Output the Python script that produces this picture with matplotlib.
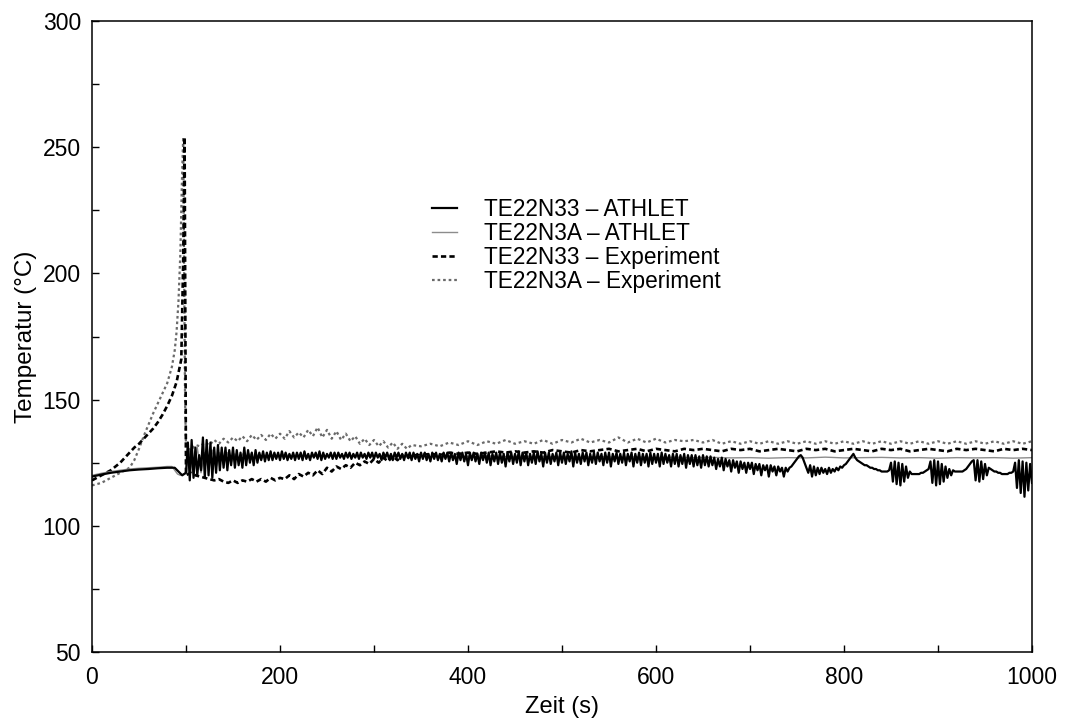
import numpy as np
import matplotlib
matplotlib.use("Agg")
import matplotlib.pyplot as plt
from matplotlib.ticker import MultipleLocator

plt.rcParams["font.family"] = ["Liberation Sans", "DejaVu Sans"]
plt.rcParams["font.size"] = 16

# ---------------- data ----------------
labels = ["TE22N33 \u2013 ATHLET", "TE22N3A \u2013 ATHLET",
          "TE22N33 \u2013 Experiment", "TE22N3A \u2013 Experiment"]

# ATHLET TE22N33: start-up phase, then 2 s samples from t = 100 s
athlet_n33_t0 = [0, 10, 20, 30, 40, 50, 60, 70, 80, 88, 92, 96, 98]
athlet_n33_v0 = [119.5, 120.3, 121, 121.5, 122, 122.3, 122.5, 122.8, 123, 123, 121.5, 120, 120.5]
athlet_n33_start, athlet_n33_step = 100, 2
athlet_n33_v = [
    121, 133, 118, 134, 119, 131, 120, 128, 122, 135, 119, 134, 120, 133, 119, 131, 121, 132, 122, 131,
    123, 131, 122, 130, 124, 131, 123, 130, 124, 129, 123, 131, 124, 130, 125, 129, 124, 130, 125, 129,
    126, 129.5, 125.5, 129, 126, 129.5, 126, 129, 126.5, 129, 126, 129.5, 126.5, 129, 126, 128.5, 126.5, 129, 126, 129,
    126.5, 129, 126, 129.5, 126.5, 128.5, 126, 129, 127, 129, 126.5, 129.5, 126, 129, 126.5, 128.5, 127, 129, 126.5, 129,
    126.5, 129, 127, 128.5, 126.5, 129, 127, 129, 126.5, 128.5, 127, 129, 126.5, 129, 127, 128.5, 126.5, 129, 127, 129,
    126.5, 129, 127, 128.5, 126, 129, 127, 129, 126.5, 128.5, 126, 129, 127, 129, 126.5, 128.5, 126, 129, 127, 129,
    126, 129, 126.5, 128.5, 125.5, 129, 126.5, 129, 126, 128.5, 125.5, 129, 126.5, 129, 126, 128.5, 125.5, 129, 126.5, 129,
    125.5, 129, 126, 128.5, 124.5, 129, 126, 129, 125.5, 128.5, 124, 129, 126, 129, 125.5, 128.5, 124.5, 129, 126, 129,
    125, 129, 124, 128.5, 125.5, 129, 124.5, 129, 125, 128.5, 123.5, 129, 125.5, 129, 124.5, 128.5, 125, 129.5, 124, 129,
    125.5, 129, 124, 128.5, 125, 129, 124.5, 129.5, 125.5, 128.5, 123.5, 129, 125, 129, 124.5, 128.5, 125.5, 129, 124, 129,
    125, 129, 124.5, 128.5, 125.5, 129.5, 123.5, 129, 125, 128.5, 124.5, 129, 125.5, 129, 124, 128.5, 125, 129, 124.5, 129,
    125.5, 128.5, 124, 129, 125, 129, 123.5, 128.5, 125.5, 129, 124.5, 128.5, 125, 129, 124, 128.5, 125.5, 129, 123.5, 128.5,
    125, 129, 124, 128.5, 125, 128.5, 123.5, 129, 124.5, 128.5, 125, 128.5, 123.5, 129, 124.5, 128.5, 125, 128, 123.5, 128.5,
    124.5, 128.5, 123.5, 128, 124.5, 128.5, 123, 128, 124.5, 128, 123.5, 128, 124, 127.5, 123, 128, 124, 127.5, 123.5, 127.5,
    124, 127, 122.5, 126.5, 123.5, 127, 122, 126.5, 123.5, 126, 121.5, 126, 123, 125.5, 121, 125.5, 122.5, 125, 121, 125,
    122.5, 125, 120.5, 124.5, 122, 124.5, 120, 124, 122, 124, 119.5, 124, 121.5, 123.5, 120, 123.5, 121.5, 123, 119.5, 123,
    121.5, 123, 123.5, 124.5, 125.5, 126.5, 127.5, 128, 127, 125, 123, 121, 124, 119.5, 123.5, 120, 123, 120.5, 123, 121,
    122.5, 120.5, 123, 121, 122.5, 121.5, 123, 122, 123.5, 123, 124, 124.5, 125.5, 126.5, 127.5, 128.5, 127, 126, 125.5, 125,
    124.5, 124, 124, 123.5, 123, 123, 122.5, 122.5, 122, 122, 121.5, 121.5, 121.5, 121.5, 122, 125, 117.5, 125.5, 116.5, 125,
    116, 124.5, 117.5, 123.5, 119, 121.5, 120.5, 120.5, 120.5, 120.5, 120.5, 121, 121, 121.5, 122, 122.5, 125.5, 117, 126, 116,
    125.5, 116.5, 124.5, 117.5, 123.5, 119, 122.5, 120, 122, 121.5, 121.5, 121.5, 121.5, 121.5, 122, 122.5, 123.5, 124.5, 125.5, 126,
    118, 126, 117.5, 125.5, 118.5, 124.5, 120, 123, 122.5, 122, 121.5, 121.5, 121, 121, 120.5, 120.5, 120.5, 120.5, 121, 121,
    121.5, 125, 115, 126, 113, 125.5, 111.5, 125, 114, 124.5, 117,
]

# ATHLET TE22N3A
athlet_n3a_t0 = [0, 10, 20, 30, 40, 50, 60, 70, 80, 85, 88, 91, 94, 97, 100]
athlet_n3a_v0 = [120, 120.8, 121.5, 122, 122.5, 122.8, 123, 123.2, 123.5, 123.5, 122, 120.5, 120, 120.5, 121]
athlet_n3a_start1, athlet_n3a_step1 = 104, 4
athlet_n3a_v1 = [130, 120, 131, 121, 129, 122, 130, 123, 129, 124, 129, 125, 128.5, 125.5, 128.5,
                 126, 128.5, 126.5, 128, 126.5, 128, 127, 128, 127, 128, 127, 128, 127, 128]
athlet_n3a_start2, athlet_n3a_step2 = 240, 20
athlet_n3a_v2 = [127.5, 127.8, 127.4, 127.7, 127.5, 127.8, 127.4, 127.6, 127.5, 127.7, 127.4, 127.6, 127.3,
                 127.5, 127.2, 127.4, 127.1, 127.3, 127.0, 127.2, 127.0, 127.1, 126.9, 127.0, 126.8, 127.0,
                 126.9, 127.2, 126.9, 127.0, 127.1, 126.9, 127.0, 126.8, 127.0, 126.9, 127.0, 126.8, 127.0]

# Experiment TE22N33
exp_n33_start0, exp_n33_step0 = 0, 5
exp_n33_v0 = [118, 119, 120, 121, 122, 123.5, 125, 127, 129, 131, 132.5, 134.5, 136.5, 138.5,
              141, 144, 147.5, 151.5, 157, 166]
exp_n33_spike_t = [97, 98.5, 100]
exp_n33_spike_v = [205, 254, 120]
exp_n33_start1, exp_n33_step1 = 105, 5
exp_n33_v1 = [121, 120, 119.5, 119, 118.5, 118, 118.5, 117.5, 117, 118, 117, 118, 117.5, 118.5, 117.5, 118.5,
              117.5, 119, 118, 119, 118.5, 120, 118.5, 120.5, 119.5, 121, 120, 122, 120.5, 123, 121.5, 123.5,
              122.5, 124, 123, 125, 124, 125.5, 124.5, 126.5, 125, 127, 125.5, 127.5, 126, 128, 126.5, 128]
exp_n33_start2, exp_n33_step2 = 350, 10
exp_n33_v2 = [128, 128.5, 128, 129, 128.5, 129, 128.5, 129, 129.5, 129,
              129.5, 129, 129.5, 129, 130, 129.5, 129, 130, 129.5, 130,
              130.5, 129.5, 130, 130.5, 129.5, 130.5, 130, 129.5, 130.5, 130,
              130.5, 130, 129.5, 130.5, 130, 130.5, 129.5, 130, 130.5, 130,
              129.5, 130.5, 130, 130.5, 129.5, 130, 130.5, 130, 129.5, 130.5,
              130, 130.5, 129.5, 130, 130.5, 130, 129.5, 130.5, 130, 130.5,
              130, 129.5, 130.5, 130, 130.5, 130]

# Experiment TE22N3A
exp_n3a_start0, exp_n3a_step0 = 0, 5
exp_n3a_v0 = [116, 116.5, 117, 118, 119, 120, 121, 122, 123, 126, 130.5, 135.5, 140, 144.5,
              148.5, 152.5, 156.5, 163]
exp_n3a_spike_t = [88, 90, 92, 94, 95.5, 97, 98, 99, 100]
exp_n3a_spike_v = [169.5, 177, 189, 208, 234, 254, 200, 150, 131]
exp_n3a_start1, exp_n3a_step1 = 105, 5
exp_n3a_v1 = [130, 132, 131.5, 133, 132, 134, 132.5, 134.5, 133, 135, 133.5, 135.5, 133.5, 136, 134,
              136, 134, 136.5, 134.5, 136.5, 134.5, 137.5, 135, 137, 135, 138, 135.5, 139, 135, 138,
              134.5, 137.5, 134, 136.5, 133.5, 135.5, 132.5, 134.5, 132, 134, 131.5, 133.5, 131, 133,
              130.5, 132.5, 130.5, 132]
exp_n3a_start2, exp_n3a_step2 = 350, 10
exp_n3a_v2 = [131.5, 132.5, 131.5, 133, 132, 133.5, 132, 133.5, 132.5, 134,
              132.5, 133.5, 132.5, 134, 132.5, 134, 133, 134.5, 133, 134,
              133, 135, 133, 134.5, 133, 134.5, 133, 134, 133.5, 134,
              133, 134, 132.5, 133.5, 132.5, 133.5, 132.5, 133.5, 132.5, 133.5,
              132.5, 133.5, 132.5, 133.5, 132.5, 133.5, 132.5, 133.5, 132.5, 133.5,
              132.5, 133.5, 132.5, 133.5, 132.5, 133.5, 132.5, 133.5, 132.5, 133.5,
              132.5, 133.5, 132.5, 133.5, 132.5, 133.5]


def grid(start, step, values):
    return start + step * np.arange(len(values))


# assemble series
a33_t = np.concatenate([athlet_n33_t0, grid(athlet_n33_start, athlet_n33_step, athlet_n33_v)])
a33_v = np.concatenate([athlet_n33_v0, athlet_n33_v])

a3a_t = np.concatenate([athlet_n3a_t0,
                        grid(athlet_n3a_start1, athlet_n3a_step1, athlet_n3a_v1),
                        grid(athlet_n3a_start2, athlet_n3a_step2, athlet_n3a_v2)])
a3a_v = np.concatenate([athlet_n3a_v0, athlet_n3a_v1, athlet_n3a_v2])

e33_t = np.concatenate([grid(exp_n33_start0, exp_n33_step0, exp_n33_v0), exp_n33_spike_t,
                        grid(exp_n33_start1, exp_n33_step1, exp_n33_v1),
                        grid(exp_n33_start2, exp_n33_step2, exp_n33_v2)])
e33_v = np.concatenate([exp_n33_v0, exp_n33_spike_v, exp_n33_v1, exp_n33_v2])

e3a_t = np.concatenate([grid(exp_n3a_start0, exp_n3a_step0, exp_n3a_v0), exp_n3a_spike_t,
                        grid(exp_n3a_start1, exp_n3a_step1, exp_n3a_v1),
                        grid(exp_n3a_start2, exp_n3a_step2, exp_n3a_v2)])
e3a_v = np.concatenate([exp_n3a_v0, exp_n3a_spike_v, exp_n3a_v1, exp_n3a_v2])

# ---------------- figure ----------------
fig = plt.figure(figsize=(10.81, 7.21), dpi=100)
ax = fig.add_axes([92 / 1081, 69 / 721, 940 / 1081, 631 / 721])

h4, = ax.plot(e3a_t, e3a_v, color="#6a6a6a", lw=1.6, ls=(0, (1.2, 1.3)), label=labels[3])
h3, = ax.plot(e33_t, e33_v, color="black", lw=1.9, ls=(0, (2.0, 1.2)), label=labels[2])
h2, = ax.plot(a3a_t, a3a_v, color="#8c8c8c", lw=1.0, label=labels[1])
h1, = ax.plot(a33_t, a33_v, color="black", lw=1.6, label=labels[0])

ax.set_xlim(0, 1000)
ax.set_ylim(50, 300)
ax.xaxis.set_major_locator(MultipleLocator(200))
ax.xaxis.set_minor_locator(MultipleLocator(100))
ax.yaxis.set_major_locator(MultipleLocator(50))
ax.yaxis.set_minor_locator(MultipleLocator(25))
ax.tick_params(which="both", direction="in", length=5, width=1.0, top=False, right=False)
ax.tick_params(axis="both", which="major", labelsize=16.5)
ax.tick_params(axis="y", which="major", pad=8)
ax.tick_params(axis="x", which="major", pad=10)
for s in ax.spines.values():
    s.set_linewidth(1.1)

ax.set_xlabel("Zeit (s)", labelpad=5, fontsize=17)
ax.set_ylabel("Temperatur (\u00b0C)", labelpad=4, fontsize=17.5)

leg = ax.legend(handles=[h1, h2, h3, h4], loc="upper left",
                bbox_to_anchor=(432 / 1081, 1 - 198 / 721), bbox_transform=fig.transFigure,
                frameon=False, borderpad=0, borderaxespad=0, handlelength=1.1,
                handletextpad=1.2, labelspacing=0.05, fontsize=16.3)

fig.savefig("out.png", dpi=100)
